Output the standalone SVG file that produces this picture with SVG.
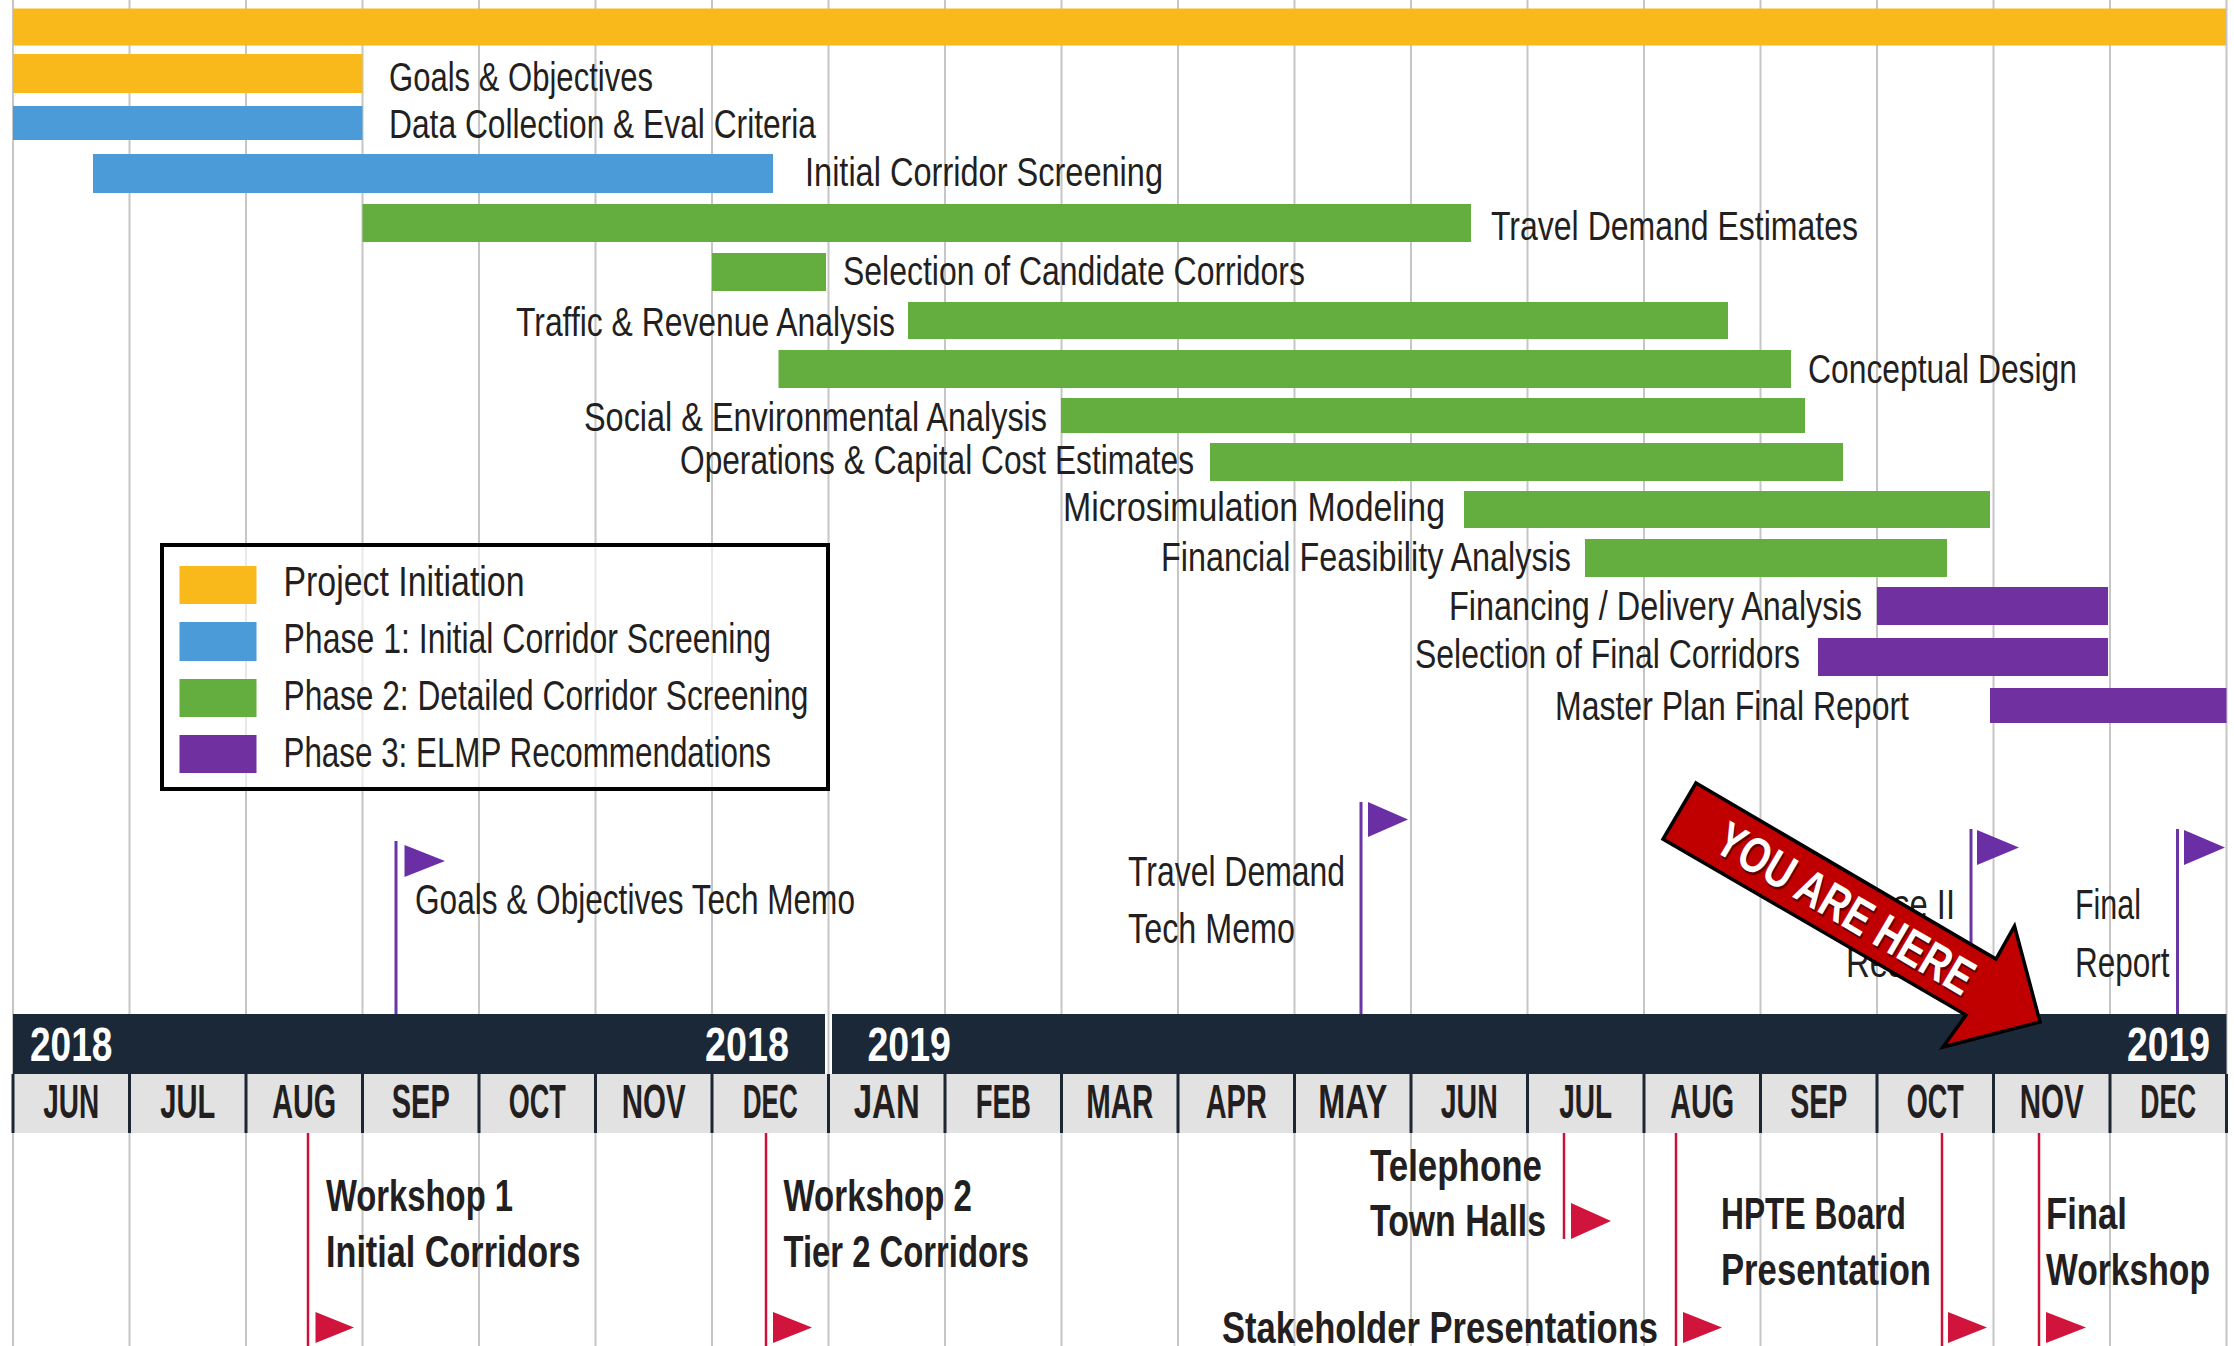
<svg xmlns="http://www.w3.org/2000/svg" width="2234" height="1346" viewBox="0 0 2234 1346">
<defs>
<style>
.t{font-family:"Liberation Sans Narrow","Liberation Sans","DejaVu Sans Condensed",sans-serif;font-size:41px;fill:#231f20}
.leg{font-size:43px}
.ms{font-size:42px}
.mon{font-family:"Liberation Sans Narrow","Liberation Sans",sans-serif;font-weight:bold;font-size:48px;text-anchor:middle;fill:#231f20}
.yr{font-family:"Liberation Sans Narrow","Liberation Sans",sans-serif;font-weight:bold;font-size:49px;fill:#ffffff}
.ev{font-family:"Liberation Sans Narrow","Liberation Sans",sans-serif;font-weight:bold;font-size:44px;fill:#231f20}
.g line{stroke:#c6c6c6;stroke-width:2}
.y{fill:#f9b91a}.b{fill:#4c9bd9}.gr{fill:#63ae3f}.p{fill:#7030a0}
.pole{stroke:#6a35a5;stroke-width:3}
.flagp{fill:#6a2fa5}
.rl{stroke:#cc1236;stroke-width:2.5}
.flagr{fill:#d0143c}
.div{stroke:#1d2733;stroke-width:3}
</style>
</defs>
<rect width="2234" height="1346" fill="#ffffff"/>
<g id="grid" class="g">
<line x1="13" y1="0" x2="13" y2="1346"/><line x1="129.5" y1="0" x2="129.5" y2="1346"/><line x1="246" y1="0" x2="246" y2="1346"/><line x1="362.5" y1="0" x2="362.5" y2="1346"/><line x1="479" y1="0" x2="479" y2="1346"/><line x1="595.5" y1="0" x2="595.5" y2="1346"/><line x1="712" y1="0" x2="712" y2="1346"/><line x1="828.5" y1="0" x2="828.5" y2="1346"/><line x1="945" y1="0" x2="945" y2="1346"/><line x1="1061.5" y1="0" x2="1061.5" y2="1346"/><line x1="1178" y1="0" x2="1178" y2="1346"/><line x1="1294.5" y1="0" x2="1294.5" y2="1346"/><line x1="1411" y1="0" x2="1411" y2="1346"/><line x1="1527.5" y1="0" x2="1527.5" y2="1346"/><line x1="1644" y1="0" x2="1644" y2="1346"/><line x1="1760.5" y1="0" x2="1760.5" y2="1346"/><line x1="1877" y1="0" x2="1877" y2="1346"/><line x1="1993.5" y1="0" x2="1993.5" y2="1346"/><line x1="2110" y1="0" x2="2110" y2="1346"/><line x1="2226.5" y1="0" x2="2226.5" y2="1346"/>
</g>
<g id="bar-project"><rect class="y" x="13" y="8.5" width="2213" height="37"/></g>
<g id="bar-goals"><rect class="y" x="13" y="54" width="349.5" height="39"/><text class="t" x="389" y="91" textLength="264" lengthAdjust="spacingAndGlyphs">Goals &amp; Objectives</text></g>
<g id="bar-data"><rect class="b" x="13" y="106" width="349.5" height="34"/><text class="t" x="389" y="138" textLength="427" lengthAdjust="spacingAndGlyphs">Data Collection &amp; Eval Criteria</text></g>
<g id="bar-initial"><rect class="b" x="93" y="154" width="680" height="39"/><text class="t" x="805" y="186" textLength="358" lengthAdjust="spacingAndGlyphs">Initial Corridor Screening</text></g>
<g id="bar-travel"><rect class="gr" x="362.5" y="204" width="1108.5" height="38"/><text class="t" x="1491" y="240" textLength="367" lengthAdjust="spacingAndGlyphs">Travel Demand Estimates</text></g>
<g id="bar-candidate"><rect class="gr" x="712" y="253" width="114" height="38"/><text class="t" x="843" y="285" textLength="462" lengthAdjust="spacingAndGlyphs">Selection of Candidate Corridors</text></g>
<g id="bar-traffic"><rect class="gr" x="908" y="302" width="820" height="37"/><text class="t" x="516" y="336" textLength="379" lengthAdjust="spacingAndGlyphs">Traffic &amp; Revenue Analysis</text></g>
<g id="bar-conceptual"><rect class="gr" x="778.5" y="350" width="1012.5" height="38"/><text class="t" x="1808" y="383" textLength="269" lengthAdjust="spacingAndGlyphs">Conceptual Design</text></g>
<g id="bar-social"><rect class="gr" x="1061" y="398" width="744" height="35"/><text class="t" x="584" y="431" textLength="463" lengthAdjust="spacingAndGlyphs">Social &amp; Environmental Analysis</text></g>
<g id="bar-operations"><rect class="gr" x="1210" y="443" width="633" height="38"/><text class="t" x="680" y="474" textLength="514" lengthAdjust="spacingAndGlyphs">Operations &amp; Capital Cost Estimates</text></g>
<g id="bar-micro"><rect class="gr" x="1464" y="491" width="526" height="37"/><text class="t" x="1063" y="521" textLength="382" lengthAdjust="spacingAndGlyphs">Microsimulation Modeling</text></g>
<g id="bar-feasibility"><rect class="gr" x="1585" y="539" width="362" height="38"/><text class="t" x="1161" y="571" textLength="410" lengthAdjust="spacingAndGlyphs">Financial Feasibility Analysis</text></g>
<g id="bar-financing"><rect class="p" x="1877" y="587" width="231" height="38"/><text class="t" x="1449" y="619.5" textLength="413" lengthAdjust="spacingAndGlyphs">Financing / Delivery Analysis</text></g>
<g id="bar-final-corridors"><rect class="p" x="1818" y="638" width="290" height="38"/><text class="t" x="1415" y="668" textLength="385" lengthAdjust="spacingAndGlyphs">Selection of Final Corridors</text></g>
<g id="bar-master"><rect class="p" x="1990" y="688" width="236.5" height="35"/><text class="t" x="1555" y="720" textLength="354" lengthAdjust="spacingAndGlyphs">Master Plan Final Report</text></g>
<g id="legend">
<rect x="162" y="545" width="666" height="244" fill="#ffffff" fill-opacity="0.6" stroke="#000000" stroke-width="4"/>
<rect class="y" x="179.5" y="566" width="77" height="38"/>
<rect class="b" x="179.5" y="622" width="77" height="39"/>
<rect class="gr" x="179.5" y="679" width="77" height="38"/>
<rect class="p" x="179.5" y="735" width="77" height="38"/>
<text class="t leg" x="283.5" y="596" textLength="241" lengthAdjust="spacingAndGlyphs">Project Initiation</text>
<text class="t leg" x="283.5" y="653" textLength="487.5" lengthAdjust="spacingAndGlyphs">Phase 1: Initial Corridor Screening</text>
<text class="t leg" x="283.5" y="710" textLength="525" lengthAdjust="spacingAndGlyphs">Phase 2: Detailed Corridor Screening</text>
<text class="t leg" x="283.5" y="767" textLength="487.5" lengthAdjust="spacingAndGlyphs">Phase 3: ELMP Recommendations</text>
</g>
<g id="ms-goals-memo">
<line class="pole" x1="396" y1="841" x2="396" y2="1014"/>
<polygon class="flagp" points="404.5,845 445,861 404.5,877"/>
<text class="t ms" x="415" y="914" textLength="440" lengthAdjust="spacingAndGlyphs">Goals &amp; Objectives Tech Memo</text>
</g>
<g id="ms-travel-memo">
<line class="pole" x1="1361" y1="802" x2="1361" y2="1014"/>
<polygon class="flagp" points="1368,802 1408,819.5 1368,837"/>
<text class="t ms" x="1128" y="886" textLength="217" lengthAdjust="spacingAndGlyphs">Travel Demand</text>
<text class="t ms" x="1128" y="943" textLength="167" lengthAdjust="spacingAndGlyphs">Tech Memo</text>
</g>
<g id="ms-phase2">
<line class="pole" x1="1971" y1="829" x2="1971" y2="1014"/>
<polygon class="flagp" points="1977,830 2019,847.5 1977,865"/>
<text class="t ms" x="1955" y="919" text-anchor="end" textLength="120" lengthAdjust="spacingAndGlyphs">Phase II</text>
<text class="t ms" x="1846" y="977" textLength="110" lengthAdjust="spacingAndGlyphs">Results</text>
</g>
<g id="ms-final-report">
<line class="pole" x1="2177.5" y1="829" x2="2177.5" y2="1014"/>
<polygon class="flagp" points="2184,830 2225,847.5 2184,865"/>
<text class="t ms" x="2075" y="919" textLength="66" lengthAdjust="spacingAndGlyphs">Final</text>
<text class="t ms" x="2075" y="977" textLength="94.5" lengthAdjust="spacingAndGlyphs">Report</text>
</g>
<g id="timeline">
<rect x="13" y="1014" width="812" height="60" fill="#1b2838"/>
<rect x="832" y="1014" width="1394.5" height="60" fill="#1b2838"/>
<rect x="13" y="1074" width="2213.5" height="59" fill="#e2e2e2"/>
<text class="yr" x="30" y="1061" textLength="82.5" lengthAdjust="spacingAndGlyphs">2018</text>
<text class="yr" x="705" y="1061" textLength="84" lengthAdjust="spacingAndGlyphs">2018</text>
<text class="yr" x="867.5" y="1061" textLength="83.5" lengthAdjust="spacingAndGlyphs">2019</text>
<text class="yr" x="2127" y="1061" textLength="83" lengthAdjust="spacingAndGlyphs">2019</text>
<g>
<line class="div" x1="13" y1="1074" x2="13" y2="1133"/><line class="div" x1="129.5" y1="1074" x2="129.5" y2="1133"/><line class="div" x1="246" y1="1074" x2="246" y2="1133"/><line class="div" x1="362.5" y1="1074" x2="362.5" y2="1133"/><line class="div" x1="479" y1="1074" x2="479" y2="1133"/><line class="div" x1="595.5" y1="1074" x2="595.5" y2="1133"/><line class="div" x1="712" y1="1074" x2="712" y2="1133"/><line class="div" x1="828.5" y1="1074" x2="828.5" y2="1133"/><line class="div" x1="945" y1="1074" x2="945" y2="1133"/><line class="div" x1="1061.5" y1="1074" x2="1061.5" y2="1133"/><line class="div" x1="1178" y1="1074" x2="1178" y2="1133"/><line class="div" x1="1294.5" y1="1074" x2="1294.5" y2="1133"/><line class="div" x1="1411" y1="1074" x2="1411" y2="1133"/><line class="div" x1="1527.5" y1="1074" x2="1527.5" y2="1133"/><line class="div" x1="1644" y1="1074" x2="1644" y2="1133"/><line class="div" x1="1760.5" y1="1074" x2="1760.5" y2="1133"/><line class="div" x1="1877" y1="1074" x2="1877" y2="1133"/><line class="div" x1="1993.5" y1="1074" x2="1993.5" y2="1133"/><line class="div" x1="2110" y1="1074" x2="2110" y2="1133"/><line class="div" x1="2226.5" y1="1074" x2="2226.5" y2="1133"/>
</g>
<text class="mon" x="71.25" y="1118" textLength="56" lengthAdjust="spacingAndGlyphs">JUN</text>
<text class="mon" x="187.75" y="1118" textLength="55" lengthAdjust="spacingAndGlyphs">JUL</text>
<text class="mon" x="304.25" y="1118" textLength="64" lengthAdjust="spacingAndGlyphs">AUG</text>
<text class="mon" x="420.75" y="1118" textLength="58" lengthAdjust="spacingAndGlyphs">SEP</text>
<text class="mon" x="537.25" y="1118" textLength="57" lengthAdjust="spacingAndGlyphs">OCT</text>
<text class="mon" x="653.75" y="1118" textLength="64" lengthAdjust="spacingAndGlyphs">NOV</text>
<text class="mon" x="770.25" y="1118" textLength="55" lengthAdjust="spacingAndGlyphs">DEC</text>
<text class="mon" x="886.75" y="1118" textLength="66" lengthAdjust="spacingAndGlyphs">JAN</text>
<text class="mon" x="1003.25" y="1118" textLength="55" lengthAdjust="spacingAndGlyphs">FEB</text>
<text class="mon" x="1119.75" y="1118" textLength="67" lengthAdjust="spacingAndGlyphs">MAR</text>
<text class="mon" x="1236.25" y="1118" textLength="61" lengthAdjust="spacingAndGlyphs">APR</text>
<text class="mon" x="1352.75" y="1118" textLength="69" lengthAdjust="spacingAndGlyphs">MAY</text>
<text class="mon" x="1469.25" y="1118" textLength="57" lengthAdjust="spacingAndGlyphs">JUN</text>
<text class="mon" x="1585.75" y="1118" textLength="53" lengthAdjust="spacingAndGlyphs">JUL</text>
<text class="mon" x="1702.25" y="1118" textLength="64" lengthAdjust="spacingAndGlyphs">AUG</text>
<text class="mon" x="1818.75" y="1118" textLength="57" lengthAdjust="spacingAndGlyphs">SEP</text>
<text class="mon" x="1935.25" y="1118" textLength="57" lengthAdjust="spacingAndGlyphs">OCT</text>
<text class="mon" x="2051.75" y="1118" textLength="64" lengthAdjust="spacingAndGlyphs">NOV</text>
<text class="mon" x="2168.25" y="1118" textLength="56" lengthAdjust="spacingAndGlyphs">DEC</text>
</g>
<g id="ev-workshop1">
<line class="rl" x1="308" y1="1133" x2="308" y2="1346"/>
<polygon class="flagr" points="315.5,1312 354,1327.5 315.5,1343"/>
<text class="ev" x="326" y="1211" textLength="187" lengthAdjust="spacingAndGlyphs">Workshop 1</text>
<text class="ev" x="326" y="1267" textLength="254.5" lengthAdjust="spacingAndGlyphs">Initial Corridors</text>
</g>
<g id="ev-workshop2">
<line class="rl" x1="766" y1="1133" x2="766" y2="1346"/>
<polygon class="flagr" points="773,1312 812,1327.5 773,1343"/>
<text class="ev" x="783.5" y="1211" textLength="188.5" lengthAdjust="spacingAndGlyphs">Workshop 2</text>
<text class="ev" x="783.5" y="1267" textLength="245.5" lengthAdjust="spacingAndGlyphs">Tier 2 Corridors</text>
</g>
<g id="ev-townhalls">
<line class="rl" x1="1564" y1="1133" x2="1564" y2="1239"/>
<polygon class="flagr" points="1571,1203 1611,1221 1571,1239"/>
<text class="ev" x="1370" y="1181" textLength="172" lengthAdjust="spacingAndGlyphs">Telephone</text>
<text class="ev" x="1370" y="1236" textLength="176" lengthAdjust="spacingAndGlyphs">Town Halls</text>
</g>
<g id="ev-stakeholder">
<line class="rl" x1="1676" y1="1133" x2="1676" y2="1346"/>
<polygon class="flagr" points="1683,1312 1722,1327.5 1683,1343"/>
<text class="ev" x="1222" y="1343" textLength="436" lengthAdjust="spacingAndGlyphs">Stakeholder Presentations</text>
</g>
<g id="ev-hpte">
<line class="rl" x1="1942" y1="1133" x2="1942" y2="1346"/>
<polygon class="flagr" points="1948,1312 1987,1327.5 1948,1343"/>
<text class="ev" x="1721" y="1229" textLength="185" lengthAdjust="spacingAndGlyphs">HPTE Board</text>
<text class="ev" x="1721" y="1285" textLength="210" lengthAdjust="spacingAndGlyphs">Presentation</text>
</g>
<g id="ev-final-workshop">
<line class="rl" x1="2039" y1="1133" x2="2039" y2="1346"/>
<polygon class="flagr" points="2046,1312 2086,1327.5 2046,1343"/>
<text class="ev" x="2046" y="1229" textLength="81" lengthAdjust="spacingAndGlyphs">Final</text>
<text class="ev" x="2046" y="1285" textLength="164" lengthAdjust="spacingAndGlyphs">Workshop</text>
</g>
<g id="you-are-here">
<polygon points="1696,783 1996,959 2014.5,926 2040,1022 1943,1047 1966,1015 1663,839" fill="#c00000" stroke="#000000" stroke-width="3.5" stroke-linejoin="miter"/>
<g transform="translate(1845.5,908.4) rotate(30.4)">
<text x="2" y="19" text-anchor="middle" textLength="290" lengthAdjust="spacingAndGlyphs" font-family="Liberation Sans, sans-serif" font-weight="bold" font-size="50" fill="#3a0000" fill-opacity="0.7">YOU ARE HERE</text>
<text x="0" y="17" text-anchor="middle" textLength="290" lengthAdjust="spacingAndGlyphs" font-family="Liberation Sans, sans-serif" font-weight="bold" font-size="50" fill="#ffffff">YOU ARE HERE</text>
</g>
</g>
</svg>
